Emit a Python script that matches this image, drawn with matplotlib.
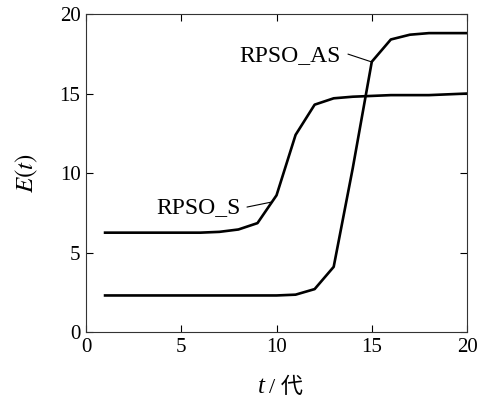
import matplotlib
matplotlib.use("Agg")
import matplotlib.pyplot as plt

plt.rcParams['font.family'] = ['Liberation Serif', 'Noto Sans CJK SC']
plt.rcParams['mathtext.fontset'] = 'stix'

t = list(range(1, 21))
rpso_s = [6.25, 6.25, 6.25, 6.25, 6.25, 6.25, 6.3, 6.45, 6.85, 8.6,
          12.4, 14.3, 14.7, 14.8, 14.85, 14.9, 14.9, 14.9, 14.95, 15.0]
rpso_as = [2.3, 2.3, 2.3, 2.3, 2.3, 2.3, 2.3, 2.3, 2.3, 2.3,
           2.35, 2.7, 4.1, 10.3, 17.0, 18.4, 18.7, 18.8, 18.8, 18.8]

fig = plt.figure(figsize=(4.86, 4.01), dpi=100)
ax = fig.add_axes([0.177, 0.172, 0.784, 0.793])

ax.plot(t, rpso_s, color='black', linewidth=1.9)
ax.plot(t, rpso_as, color='black', linewidth=1.9)

ax.set_xlim(0, 20)
ax.set_ylim(0, 20)
ax.set_xticks([0, 5, 10, 15, 20])
ax.set_yticks([0, 5, 10, 15, 20])
ax.tick_params(direction='in', top=True, right=True, length=5, width=0.8,
               labelsize=15, pad=4)
for s in ax.spines.values():
    s.set_linewidth(0.8)
    s.set_color('#333333')

# labels for the curves with thin leader lines
ax.text(8.1, 7.8, 'RPSO_S', fontsize=17, ha='right', va='center')
ax.annotate('', xy=(9.76, 8.18), xytext=(8.45, 7.86),
            arrowprops=dict(arrowstyle='-', color='black', lw=0.8,
                            shrinkA=0, shrinkB=0))
ax.text(13.35, 17.4, 'RPSO_AS', fontsize=17, ha='right', va='center')
ax.annotate('', xy=(15.01, 16.98), xytext=(13.75, 17.48),
            arrowprops=dict(arrowstyle='-', color='black', lw=0.8,
                            shrinkA=0, shrinkB=0))

ax.set_ylabel(r'$E(t)$', fontsize=18, labelpad=14)

# x label: italic t plus the Chinese unit
fig.text(0.545, 0.02, 't', fontsize=18, style='italic', ha='right',
         va='baseline', family='Liberation Serif')
fig.text(0.553, 0.02, '/ 代', fontsize=16, ha='left', va='baseline',
         family=['Liberation Serif', 'Noto Sans CJK SC'])

fig.savefig('out.png', dpi=100)
